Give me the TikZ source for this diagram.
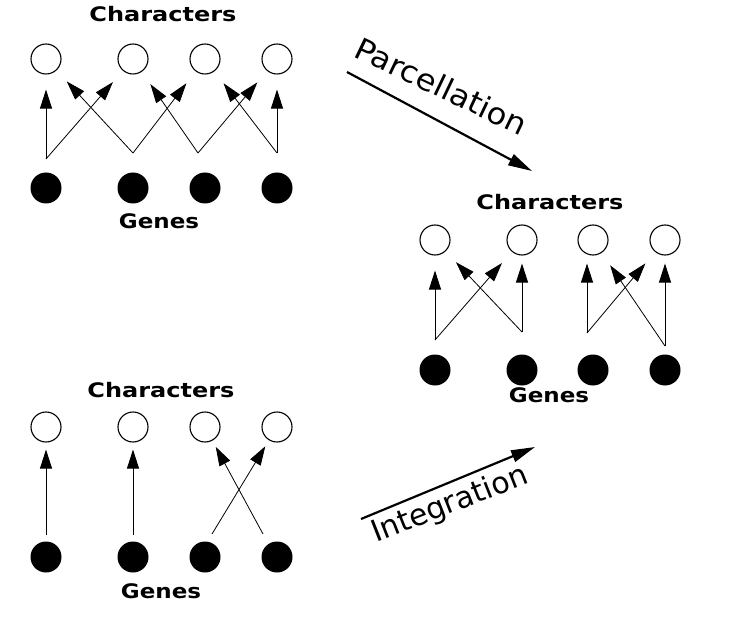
\documentclass[tikz,border=0pt]{standalone}
\usepackage{fontspec}
\setmainfont{DejaVu Sans}
\usetikzlibrary{arrows.meta}
\newfontfamily\lblfont{DejaVu Sans}
\begin{document}
\begin{tikzpicture}[x=1pt,y=-1pt,
  charnode/.style={circle,draw,line width=1.1pt,minimum size=30pt,inner sep=0pt},
  genenode/.style={circle,fill=black,minimum size=31pt,inner sep=0pt},
  lbl/.style={inner sep=0pt,anchor=base,font=\lblfont\bfseries\fontsize{20}{20}\selectfont},
  arr/.style={line width=0.8pt,-{Triangle[length=19pt,width=12pt]}},
  bigarr/.style={line width=2.2pt,-{Triangle[length=24pt,width=12pt]}},
  rot/.style={inner sep=0pt,anchor=base west,font=\lblfont\fontsize{30}{30}\selectfont}]
\useasboundingbox (0,0) rectangle (749,620);
% ---------- top-left panel ----------
\node[lbl] (lc1) at (163,22) {\scalebox{1.2}[1]{Characters}};
\foreach \i/\x in {1/46,2/133,3/205,4/277}{
  \node[charnode] (A\i) at (\x,59) {};
  \node[genenode] (a\i) at (\x,188) {};
}
\node[lbl] (lg1) at (159,229) {\scalebox{1.15}[1]{Genes}};
\coordinate (ta1) at (46,159);
\coordinate (ta2) at (133,153);
\coordinate (ta3) at (198,153);
\coordinate (ta4) at (277,153);
\begin{scope}[shorten >=15pt]
\draw[arr] (ta1) -- (A1);
\draw[arr] (ta1) -- (A2);
\draw[arr] (ta2) -- (A1);
\draw[arr] (ta2) -- (A3);
\draw[arr] (ta3) -- (A2);
\draw[arr] (ta3) -- (A4);
\draw[arr] (ta4) -- (A3);
\draw[arr] (ta4) -- (A4);
\end{scope}
% ---------- right panel ----------
\node[lbl] (lc2) at (550,210) {\scalebox{1.2}[1]{Characters}};
\foreach \i/\x in {1/435,2/522,3/593,4/665}{
  \node[charnode] (B\i) at (\x,240) {};
  \node[genenode] (b\i) at (\x,370) {};
}
\node[lbl] (lg2) at (549,402) {\scalebox{1.15}[1]{Genes}};
\coordinate (tb1) at (435,340);
\coordinate (tb2) at (522,332);
\coordinate (tb3) at (587,333);
\coordinate (tb4) at (665,346);
\begin{scope}[shorten >=15pt]
\draw[arr] (tb1) -- (B1);
\draw[arr] (tb1) -- (B2);
\draw[arr] (tb2) -- (B1);
\draw[arr] (tb3) -- (B4);
\draw[arr] (tb4) -- (B3);
\end{scope}
\begin{scope}[shorten >=8pt]
\draw[arr] (tb2) -- (tb2 |- B2.south);
\draw[arr] (tb3) -- (tb3 |- B3.south);
\draw[arr] (tb4) -- (tb4 |- B4.south);
\end{scope}
% ---------- bottom-left panel ----------
\node[lbl] (lc3) at (161,397) {\scalebox{1.2}[1]{Characters}};
\foreach \i/\x in {1/46,2/133,3/205,4/277}{
  \node[charnode] (C\i) at (\x,427) {};
  \node[genenode] (c\i) at (\x,557) {};
}
\node[lbl] (lg3) at (161,598) {\scalebox{1.15}[1]{Genes}};
\coordinate (tc1) at (46,535);
\coordinate (tc2) at (133,535);
\coordinate (tc3) at (212,534);
\coordinate (tc4) at (263,534);
\begin{scope}[shorten >=7pt]
\draw[arr] (tc1) -- (C1);
\draw[arr] (tc2) -- (C2);
\draw[arr] (tc3) -- (C4);
\draw[arr] (tc4) -- (C3);
\end{scope}
% ---------- process arrows ----------
\coordinate (ps) at (347,72);
\coordinate (pe) at (532,171);
\draw[bigarr] (ps) -- (pe);
\node[rot,rotate=-25.5] (pl) at (352,56) {\scalebox{1.07}[1]{Parcellation}};
\coordinate (is) at (361,519);
\coordinate (ie) at (535,447);
\draw[bigarr] (is) -- (ie);
\node[rot,rotate=21.5] (il) at (376,543) {Integration};
\end{tikzpicture}
\end{document}
